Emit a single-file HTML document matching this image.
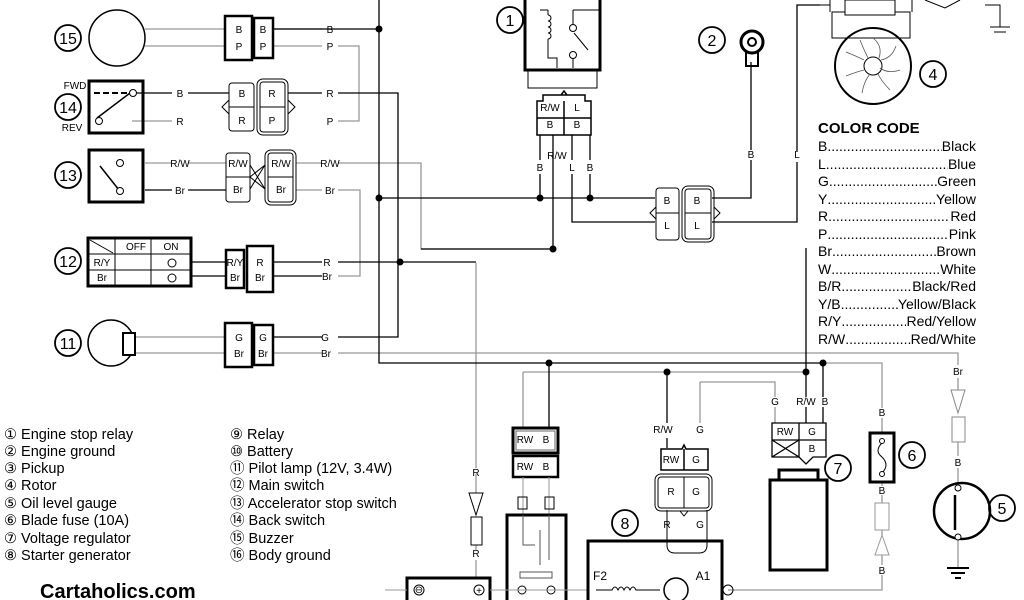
<!DOCTYPE html>
<html><head><meta charset="utf-8"><style>
html,body{margin:0;padding:0;background:#fff;width:1024px;height:600px;overflow:hidden;position:relative}
svg{display:block;font-family:"Liberation Sans",sans-serif}
#cc{position:absolute;left:818px;top:119px;width:158px;font-family:"Liberation Sans",sans-serif;font-size:14px;line-height:17.5px;color:#000}
#cc .h{font-weight:bold;font-size:15px;line-height:19px;margin-bottom:0}
#cc .r{display:flex;white-space:nowrap}
#cc .d{flex:1;overflow:hidden}
</style></head><body>
<svg width="1024" height="600" viewBox="0 0 1024 600" xmlns="http://www.w3.org/2000/svg">
<g fill="none" stroke-linejoin="miter">
<g stroke="#999" stroke-width="1.3">
<path d="M145 29H224M145 46H224M273 29H322M273 46H322M338 46H359V121H338"/>
<path d="M132 121H172M145 163H172M188 163H226M296 163H322M338 163H421V249H553"/>
<path d="M296 190H322M338 190H360V276H338"/>
<path d="M128 337H224M128 353H224M273 353H322M338 353H958V365M958 378V390"/>
<path d="M823 363H882V408M882 418V433M882 482V486M882 495V503M882 530V535M882 555V565M882 575V590H728"/>
<path d="M523 372H806M523 372V427M700 382H775V397M775 407V423M700 382V423"/>
<path d="M958 442V456M958 468V483M958 540V568"/>
<path d="M476 263V468M476 474V493M476 545V550M476 560V578"/>
</g>
<g stroke="#000" stroke-width="1.3">
<path d="M379 0V363H823"/>
<path d="M273 29H379M132 93H172M188 93H229M288 93H322M338 93H398V337H338M322 337H273"/>
<path d="M145 190H172M188 190H226"/>
<path d="M191 262H226M191 276H226M273 262H322M338 262H476M273 276H322"/>
<path d="M379 198H655M553 249H421M553 135V249M540 135V160M540 174V198M590 135V160M590 174V198M572 135V160M572 174V222H655"/>
<path d="M712 198H751V160M751 150V62M712 222H797V162M797 152V5H820"/>
<path d="M806 248V397M806 407V423M823 363V397M823 407V423"/>
<path d="M549 363V427M667 372V423M667 438V448"/>
</g>
<g fill="#000"><circle cx="379" cy="29" r="3.5"/><circle cx="379" cy="198" r="3.5"/><circle cx="400" cy="262" r="3.5"/><circle cx="540" cy="198" r="3.5"/><circle cx="590" cy="198" r="3.5"/><circle cx="553" cy="249" r="3.5"/><circle cx="549" cy="363" r="3.5"/><circle cx="823" cy="363" r="3.5"/><circle cx="667" cy="372" r="3.5"/><circle cx="806" cy="372" r="3.5"/></g>
<g stroke="#000" stroke-width="1.8">
<circle cx="68" cy="38" r="13"/><circle cx="68" cy="107" r="13"/><circle cx="68" cy="175" r="13"/><circle cx="68" cy="261" r="13"/><circle cx="68" cy="343" r="13"/>
<circle cx="510" cy="20" r="13"/><circle cx="712" cy="40" r="13"/><circle cx="933" cy="74" r="13"/><circle cx="625" cy="523" r="13"/><circle cx="838" cy="468" r="13"/><circle cx="912" cy="455" r="13"/><circle cx="1002" cy="508" r="13"/>
</g>
<circle cx="117" cy="38" r="28" stroke="#000" stroke-width="1.5"/>
<rect x="225" y="16" width="27" height="44" stroke="#000" stroke-width="2.5"/><rect x="254" y="18" width="19" height="40" stroke="#000" stroke-width="2.5"/>
<rect x="89" y="81" width="54" height="52" stroke="#000" stroke-width="3"/>
<path d="M94 93H130" stroke="#000" stroke-width="2" stroke-dasharray="6,3"/><path d="M97 118L130 93" stroke="#000" stroke-width="1.5"/>
<circle cx="133" cy="93" r="3.5" stroke="#000" fill="#fff"/><circle cx="99" cy="121" r="3.5" stroke="#000" fill="#fff"/>
<rect x="229" y="83" width="25" height="48" rx="3" stroke="#000"/><path d="M229 107H254M229 100L222 107L229 114M288 100L295 107L288 114" stroke="#000"/>
<rect x="257" y="79" width="31" height="56" rx="6" stroke="#000"/><rect x="260" y="82" width="25" height="50" rx="3" stroke="#000"/><path d="M260 107H285" stroke="#000"/>
<rect x="89" y="150" width="54" height="52" stroke="#000" stroke-width="3"/>
<path d="M100 166L119 190" stroke="#000" stroke-width="1.5"/><circle cx="120" cy="163" r="3.5" stroke="#000" fill="#fff"/><circle cx="120" cy="191" r="3.5" stroke="#000" fill="#fff"/>
<rect x="226" y="153" width="24" height="49" rx="3" stroke="#000"/><path d="M226 177H250M250 177L265 165M250 177L265 189M250 165L265 189M250 189L265 165" stroke="#000"/>
<rect x="265" y="150" width="31" height="55" rx="6" stroke="#000"/><rect x="268" y="153" width="25" height="49" rx="3" stroke="#000"/><path d="M268 177H293" stroke="#000"/>
<rect x="88" y="238" width="103" height="48" stroke="#000" stroke-width="3"/>
<path d="M88 254H191M88 270H191M115 238V286M151 238V286M90 240L113 253" stroke="#000"/>
<circle cx="172" cy="263" r="4" stroke="#000"/><circle cx="172" cy="278" r="4" stroke="#000"/>
<rect x="226" y="250" width="18" height="38" stroke="#000" stroke-width="2.5"/><rect x="247" y="246" width="26" height="46" stroke="#000" stroke-width="2.5"/>
<circle cx="111" cy="343" r="23" stroke="#000" stroke-width="1.5"/><rect x="123" y="333" width="12" height="22" stroke="#000" stroke-width="2" fill="#fff"/>
<rect x="225" y="323" width="27" height="44" stroke="#000" stroke-width="2.5"/><rect x="254" y="325" width="19" height="40" stroke="#000" stroke-width="2.5"/>
<path d="M525 0V70H600V0" stroke="#000" stroke-width="3"/><path d="M528 70V88H597V70" stroke="#000"/>
<path d="M540 10H548M548 15a3 3 0 010 6a3 3 0 010 6a3 3 0 010 6a3 3 0 010 6M548 10V15M548 39V58H557V68M573 10H600M573 10V25M573 57V68M574 33L588 50" stroke="#000"/>
<circle cx="573" cy="28" r="3.5" stroke="#000" fill="#fff"/><circle cx="573" cy="55" r="3.5" stroke="#000" fill="#fff"/>
<path d="M537 101H543V95H585V101H591V135H537Z M537 118H591M564 101V135M561 95L564 91L567 95" stroke="#000" stroke-width="1.5"/>
<circle cx="752" cy="42" r="11" stroke="#000" stroke-width="3"/><circle cx="752" cy="42" r="4" stroke="#000" stroke-width="2"/><path d="M746 52V66H758V52" stroke="#000" stroke-width="2"/>
<rect x="656" y="188" width="23" height="52" rx="3" stroke="#000"/><path d="M656 213H679M656 207L650 213L656 219" stroke="#000"/>
<rect x="682" y="186" width="32" height="56" rx="6" stroke="#000"/><rect x="685" y="189" width="26" height="50" rx="3" stroke="#000"/><path d="M685 213H711M714 207L720 213L714 219" stroke="#000"/>
<path d="M830 0V12M912 0V12M820 5H830M925 0L945 8L960 0M985 5H1000V27M990 27H1010M994 32H1006" stroke="#000"/>
<rect x="832" y="12" width="78" height="26" stroke="#000"/><rect x="845" y="0" width="50" height="15" stroke="#000" fill="#fff"/>
<circle cx="873" cy="66" r="38" stroke="#000" stroke-width="2"/><circle cx="873" cy="66" r="9" stroke="#000"/>
<g stroke="#555" stroke-width="0.8"><path d="M873 38q10 8 6 20M896 46q-4 12-15 14M900 70q-12 4-20 -2M890 90q-8-8-12-16M862 93q2-12 8-19M846 76q10-4 18-6M846 52q10 4 18 8M860 40q4 10 8 18"/></g>
<rect x="513" y="428" width="45" height="25" stroke="#000" stroke-width="3"/><rect x="516" y="431" width="39" height="19" stroke="#666"/>
<rect x="513" y="456" width="45" height="21" stroke="#000" stroke-width="2.5"/>
<path d="M523 477V515M549 477V515" stroke="#999"/><rect x="518" y="497" width="9" height="12" stroke="#000"/><rect x="545" y="497" width="9" height="12" stroke="#000"/>
<rect x="507" y="515" width="59" height="90" stroke="#000" stroke-width="3"/>
<path d="M523 515V545H535M540 530V565M549 515V560M520 572H552V578H520Z" stroke="#555"/>
<circle cx="522" cy="590" r="4" stroke="#000"/><circle cx="551" cy="590" r="4" stroke="#000"/>
<path d="M469 493H483L476 515Z M471 517H482V545H471Z" stroke="#000"/>
<rect x="407" y="578" width="83" height="30" stroke="#000" stroke-width="3"/>
<circle cx="419" cy="590" r="5" stroke="#000"/><circle cx="479" cy="590" r="5" stroke="#000"/>
<path d="M385 590H407M490 590H588" stroke="#999"/>
<rect x="588" y="541" width="134" height="70" stroke="#000" stroke-width="3"/>
<path d="M667 510V545q0 8 8 8h24q8 0 8-8V510" stroke="#000"/>
<path d="M596 590H612q3-6 6 0q3-6 6 0q3-6 6 0q3-6 6 0H660" stroke="#000"/>
<circle cx="676" cy="590" r="12" stroke="#000" stroke-width="1.5"/><circle cx="728" cy="590" r="5" stroke="#000"/>
<path d="M661 449H682L684 445L686 449H708V470H661Z M684 449V470" stroke="#000" stroke-width="1.5"/>
<rect x="655" y="474" width="57" height="37" rx="6" stroke="#000"/><rect x="658" y="477" width="51" height="31" rx="3" stroke="#000"/><path d="M684 477V508M680 511L684 516L688 511" stroke="#000"/>
<path d="M772 423H826V457H813L806 464L799 457H772Z M772 440H826M799 423V457M772 440L799 457M772 457L799 440" stroke="#000" stroke-width="1.3"/>
<rect x="779" y="470" width="39" height="10" stroke="#000" stroke-width="3"/><rect x="770" y="480" width="57" height="90" stroke="#000" stroke-width="3"/>
<rect x="870" y="433" width="24" height="49" stroke="#000" stroke-width="3"/>
<path d="M882 443q-8 8 0 14q8 8 0 16" stroke="#000"/>
<circle cx="882" cy="441" r="2.5" stroke="#000" fill="#fff"/><circle cx="882" cy="474" r="2.5" stroke="#000" fill="#fff"/>
<path d="M875 503H889V530H875Z M875 555H889L882 535Z" stroke="#999"/>
<path d="M951 390H965L958 413Z M952 417H965V442H952Z" stroke="#888"/>
<circle cx="962" cy="511" r="28" stroke="#000" stroke-width="2.5"/><path d="M955 495V530" stroke="#000" stroke-width="2.5"/>
<circle cx="958" cy="488" r="3" stroke="#000" fill="#fff"/><circle cx="958" cy="537" r="3" stroke="#000" fill="#fff"/>
<path d="M947 568H969M951 573H965M955 578H961" stroke="#000" stroke-width="2"/>
</g>
<g font-size="10" fill="#000" text-anchor="middle">
<g font-size="16"><text x="68" y="44">15</text><text x="68" y="113">14</text><text x="68" y="181">13</text><text x="68" y="267">12</text><text x="68" y="349">11</text>
<text x="510" y="26">1</text><text x="712" y="46">2</text><text x="933" y="80">4</text><text x="625" y="529">8</text><text x="838" y="474">7</text><text x="912" y="461">6</text><text x="1002" y="514">5</text></g>
<text x="75" y="89">FWD</text><text x="72" y="131">REV</text>
<text x="239" y="33">B</text><text x="239" y="50">P</text><text x="263" y="33">B</text><text x="263" y="50">P</text>
<text x="330" y="33">B</text><text x="330" y="50">P</text>
<text x="180" y="97">B</text><text x="180" y="125">R</text><text x="242" y="97">B</text><text x="242" y="124">R</text><text x="272" y="97">R</text><text x="272" y="124">P</text><text x="330" y="97">R</text><text x="330" y="125">P</text>
<text x="180" y="167">R/W</text><text x="180" y="194">Br</text><text x="238" y="167">R/W</text><text x="238" y="193">Br</text><text x="281" y="167">R/W</text><text x="281" y="193">Br</text><text x="330" y="167">R/W</text><text x="330" y="194">Br</text>
<text x="136" y="250">OFF</text><text x="171" y="250">ON</text><text x="102" y="266">R/Y</text><text x="102" y="281">Br</text>
<text x="235" y="266">R/Y</text><text x="235" y="281">Br</text><text x="260" y="266">R</text><text x="260" y="281">Br</text><text x="327" y="266">R</text><text x="327" y="280">Br</text>
<text x="239" y="341">G</text><text x="239" y="357">Br</text><text x="263" y="341">G</text><text x="263" y="357">Br</text><text x="325" y="341">G</text><text x="326" y="357">Br</text>
<text x="550" y="111">R/W</text><text x="577" y="111">L</text><text x="550" y="128">B</text><text x="577" y="128">B</text>
<text x="540" y="171">B</text><text x="557" y="159">R/W</text><text x="572" y="171">L</text><text x="590" y="171">B</text>
<text x="667" y="204">B</text><text x="667" y="229">L</text><text x="697" y="204">B</text><text x="697" y="229">L</text>
<text x="751" y="158">B</text><text x="797" y="158">L</text>
<text x="476" y="476">R</text><text x="476" y="557">R</text>
<text x="525" y="443">RW</text><text x="546" y="443">B</text><text x="525" y="470">RW</text><text x="546" y="470">B</text>
<text x="663" y="433">R/W</text><text x="700" y="433">G</text><text x="671" y="463">RW</text><text x="696" y="463">G</text><text x="671" y="495">R</text><text x="696" y="495">G</text><text x="667" y="528">R</text><text x="700" y="528">G</text>
<text x="775" y="405">G</text><text x="806" y="405">R/W</text><text x="825" y="405">B</text><text x="785" y="435">RW</text><text x="812" y="435">G</text><text x="812" y="452">B</text>
<text x="882" y="416">B</text><text x="882" y="494">B</text><text x="882" y="574">B</text><text x="958" y="375">Br</text><text x="958" y="466">B</text>
<text x="600" y="580" font-size="12">F2</text><text x="703" y="580" font-size="12">A1</text>
<text x="419" y="593" font-size="10">⊖</text><text x="479" y="594" font-size="10">+</text>
</g>
<g font-size="14.5" fill="#000">
<text x="4" y="439">① Engine stop relay</text><text x="4" y="456">② Engine ground</text><text x="4" y="473">③ Pickup</text><text x="4" y="490">④ Rotor</text><text x="4" y="508">⑤ Oil level gauge</text><text x="4" y="525">⑥ Blade fuse (10A)</text><text x="4" y="543">⑦ Voltage regulator</text><text x="4" y="560">⑧ Starter generator</text>
<text x="230" y="439">⑨ Relay</text><text x="230" y="456">⑩ Battery</text><text x="230" y="473">⑪ Pilot lamp (12V, 3.4W)</text><text x="230" y="490">⑫ Main switch</text><text x="230" y="508">⑬ Accelerator stop switch</text><text x="230" y="525">⑭ Back switch</text><text x="230" y="543">⑮ Buzzer</text><text x="230" y="560">⑯ Body ground</text>
<text x="40" y="598" font-size="20" font-weight="bold">Cartaholics.com</text>
</g>
</svg>
<div id="cc">
<div class="h">COLOR CODE</div>
<div class="r"><span>B</span><span class="d">................................................</span><span>Black</span></div>
<div class="r"><span>L</span><span class="d">................................................</span><span>Blue</span></div>
<div class="r"><span>G</span><span class="d">................................................</span><span>Green</span></div>
<div class="r"><span>Y </span><span class="d">................................................</span><span>Yellow</span></div>
<div class="r"><span>R</span><span class="d">................................................</span><span>Red</span></div>
<div class="r"><span>P </span><span class="d">................................................</span><span>Pink</span></div>
<div class="r"><span>Br</span><span class="d">................................................</span><span>Brown</span></div>
<div class="r"><span>W</span><span class="d">................................................</span><span>White</span></div>
<div class="r"><span>B/R </span><span class="d">................................................</span><span>Black/Red</span></div>
<div class="r"><span>Y/B </span><span class="d">................................................</span><span>Yellow/Black</span></div>
<div class="r"><span>R/Y</span><span class="d">................................................</span><span>Red/Yellow</span></div>
<div class="r"><span>R/W</span><span class="d">................................................</span><span>Red/White</span></div>
</div>
</body></html>
